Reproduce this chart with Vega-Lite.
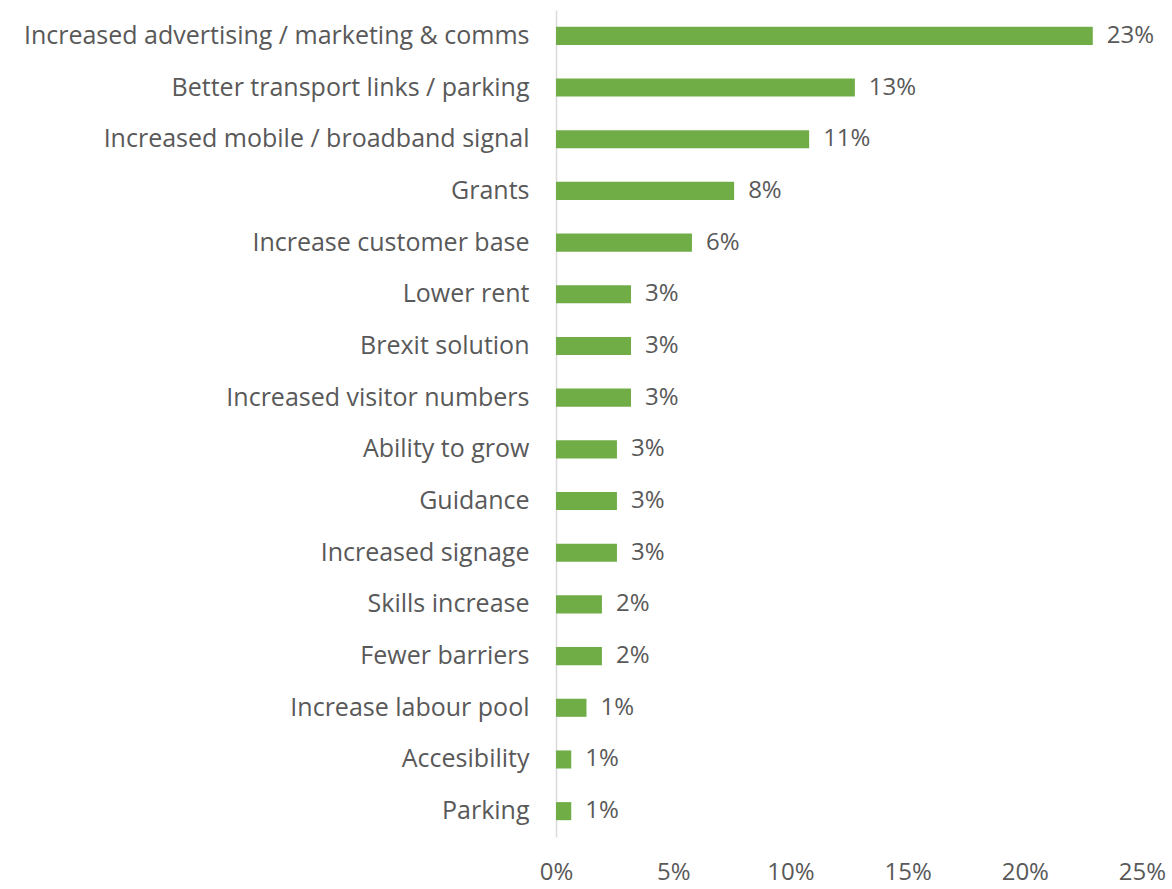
{
  "$schema": "https://vega.github.io/schema/vega-lite/v6.json",
  "width": 586,
  "height": 827,
  "autosize": {"type": "none"},
  "padding": {"left": 556, "top": 10, "right": 30, "bottom": 52},
  "background": "white",
  "config": {
    "view": {"stroke": null},
    "font": "Open Sans"
  },
  "data": {
    "values": [
      {"factor": "Increased advertising / marketing & comms", "share": 0.229},
      {"factor": "Better transport links / parking", "share": 0.1275},
      {"factor": "Increased mobile / broadband signal", "share": 0.108},
      {"factor": "Grants", "share": 0.076},
      {"factor": "Increase customer base", "share": 0.058},
      {"factor": "Lower rent", "share": 0.032},
      {"factor": "Brexit solution", "share": 0.032},
      {"factor": "Increased visitor numbers", "share": 0.032},
      {"factor": "Ability to grow", "share": 0.026},
      {"factor": "Guidance", "share": 0.026},
      {"factor": "Increased signage", "share": 0.026},
      {"factor": "Skills increase", "share": 0.0196},
      {"factor": "Fewer barriers", "share": 0.0196},
      {"factor": "Increase labour pool", "share": 0.013},
      {"factor": "Accesibility", "share": 0.0065},
      {"factor": "Parking", "share": 0.0065}
    ]
  },
  "encoding": {
    "y": {
      "field": "factor",
      "type": "nominal",
      "sort": null,
      "title": null,
      "scale": {"paddingInner": 0.65, "paddingOuter": 0.325},
      "axis": {
        "domain": true,
        "domainColor": "#d9d9d9",
        "domainWidth": 1.5,
        "ticks": false,
        "labelPadding": 27,
        "labelFontSize": 25,
        "labelColor": "#595959",
        "labelLimit": 600,
        "labelFont": "Open Sans"
      }
    },
    "x": {
      "field": "share",
      "type": "quantitative",
      "title": null,
      "scale": {"domain": [0, 0.25], "nice": false},
      "axis": {
        "values": [0, 0.05, 0.1, 0.15, 0.2, 0.25],
        "format": ".0%",
        "orient": "bottom",
        "domain": false,
        "ticks": false,
        "grid": false,
        "labelPadding": 23,
        "labelFontSize": 24,
        "labelColor": "#595959",
        "labelFont": "Open Sans",
        "labelFlush": false
      }
    }
  },
  "layer": [
    {"mark": {"type": "bar", "color": "#70ad47"}},
    {
      "mark": {"type": "text", "align": "left", "baseline": "middle", "dx": 14, "fontSize": 24, "color": "#595959", "font": "Open Sans"},
      "encoding": {"text": {"field": "share", "type": "quantitative", "format": ".0%"}}
    }
  ]
}
